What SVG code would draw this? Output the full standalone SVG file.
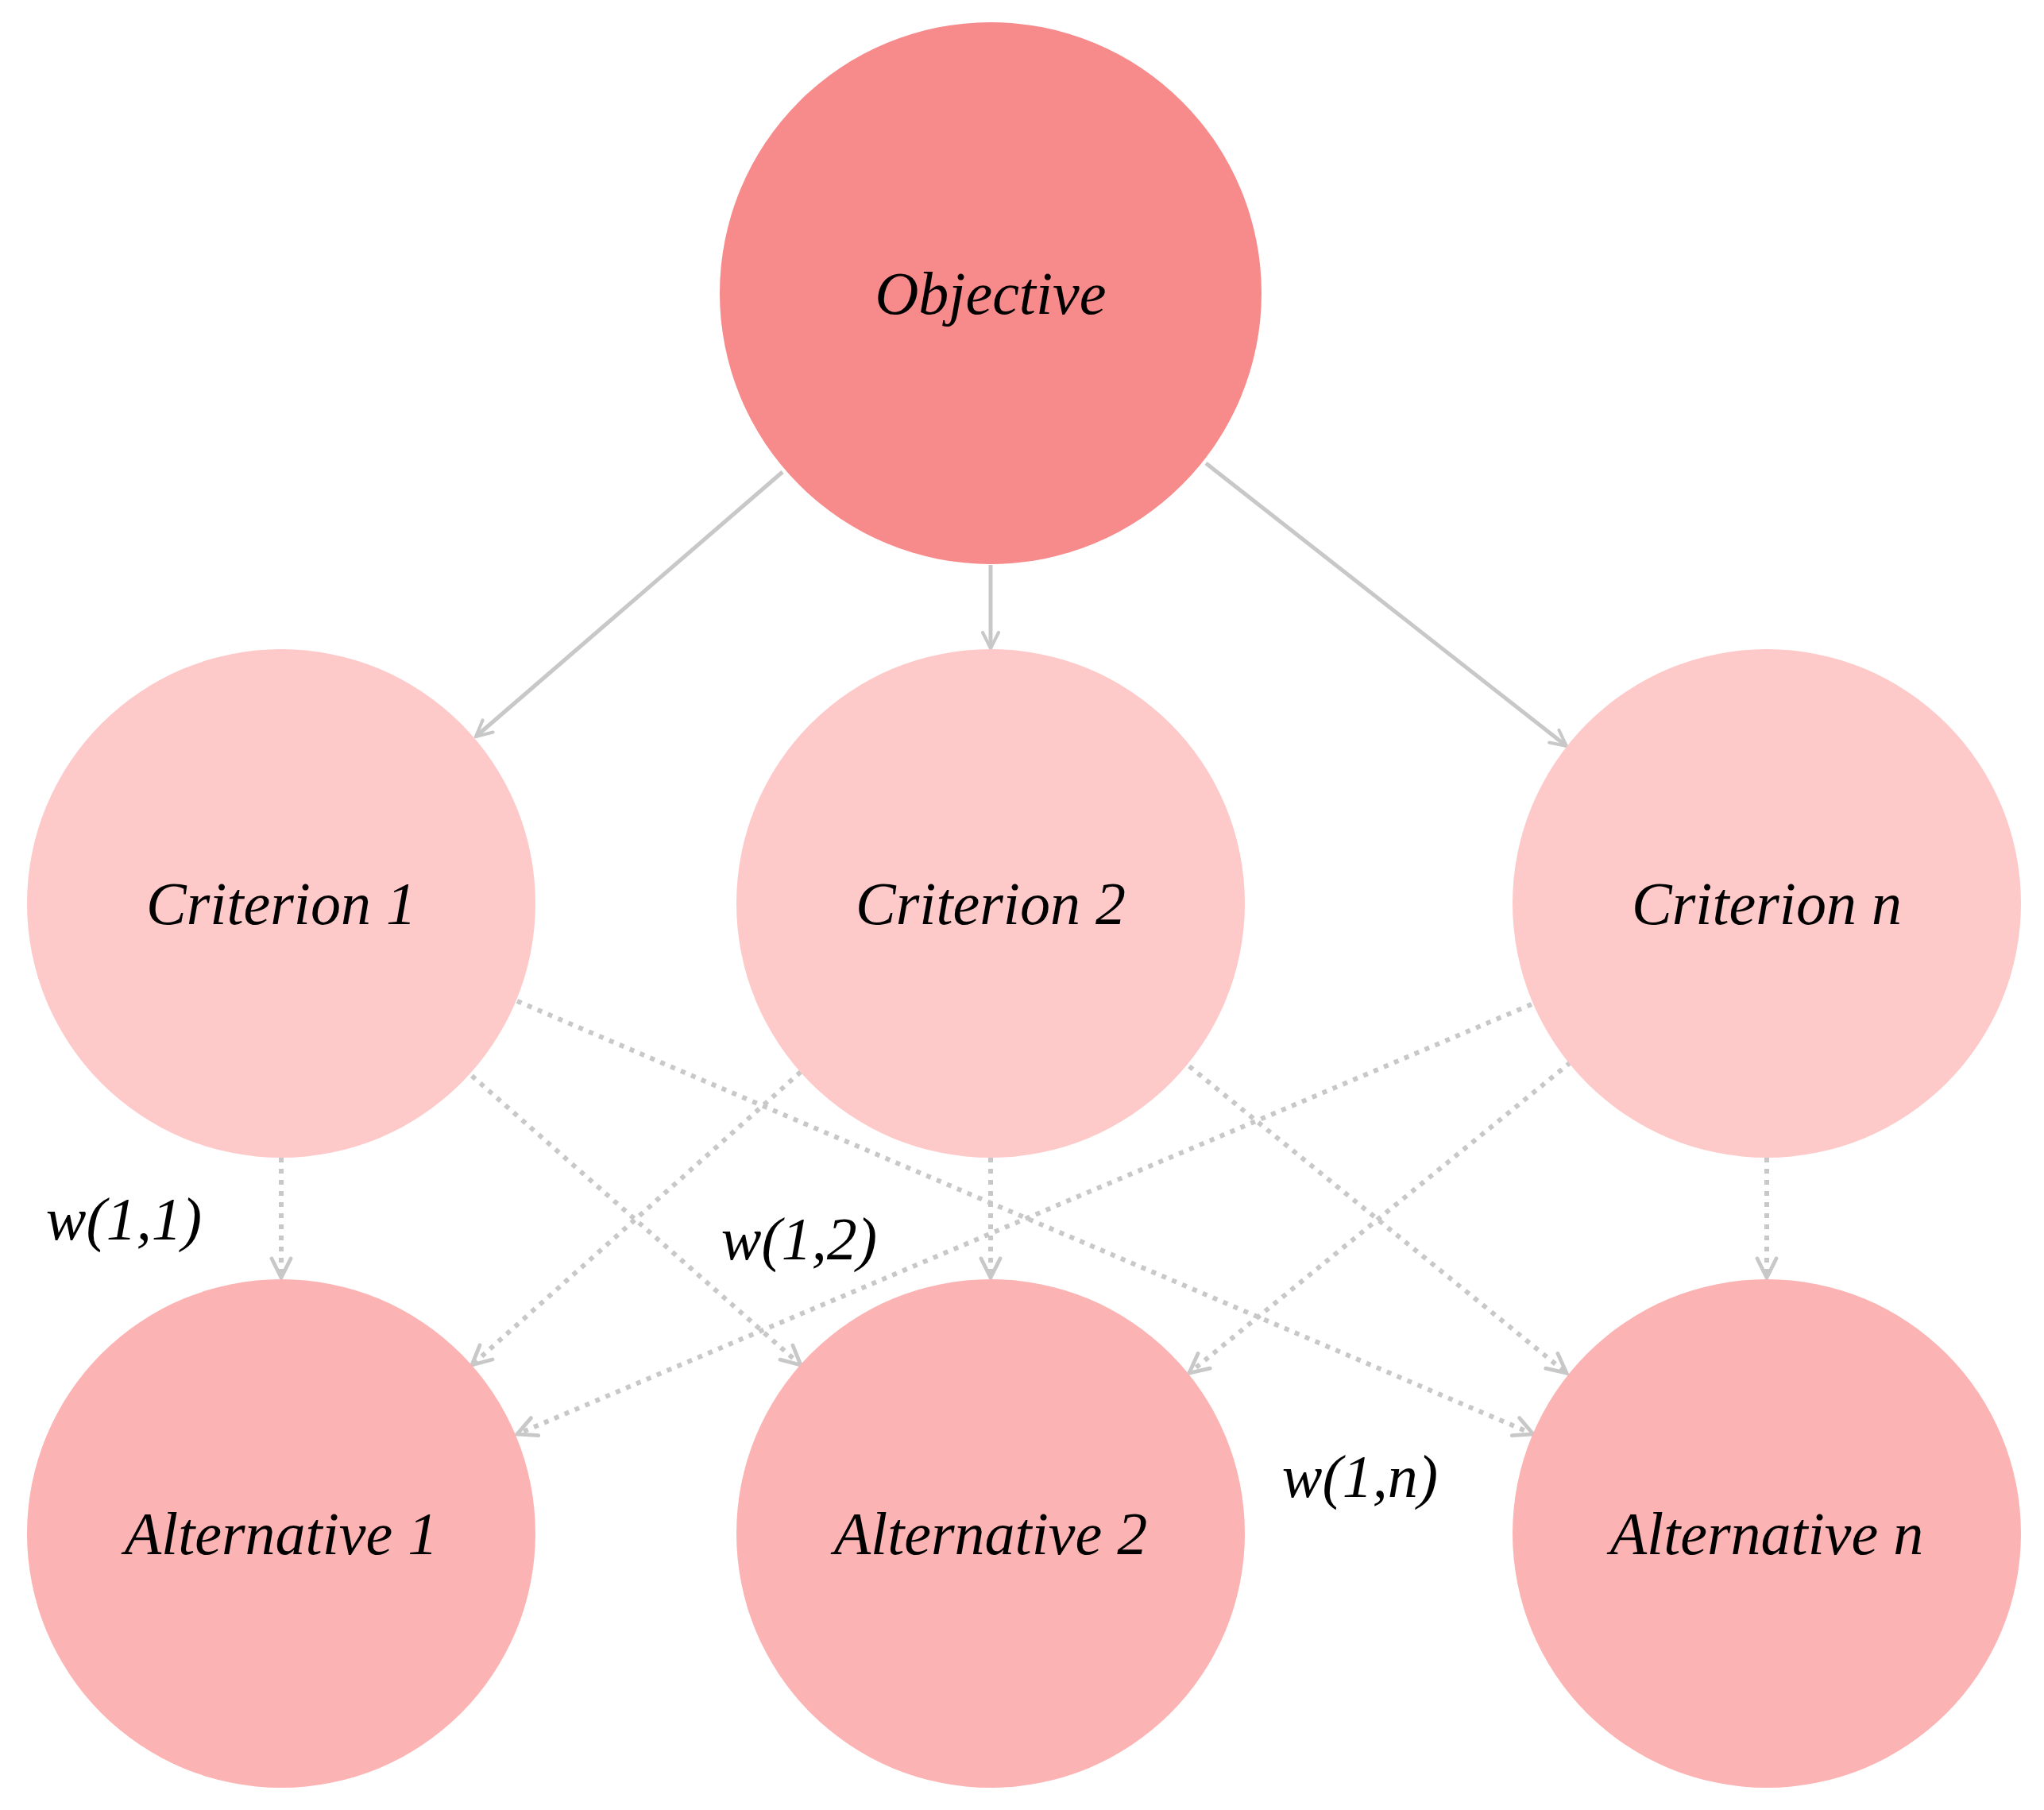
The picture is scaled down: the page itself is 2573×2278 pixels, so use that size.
<svg xmlns="http://www.w3.org/2000/svg" width="2573" height="2278" viewBox="0 0 2573 2278">
<style>
.t{font-family:"Liberation Serif",serif;font-style:italic;font-size:76px;fill:#000;text-anchor:middle;dominant-baseline:central}
.s{stroke:#c8c8c8;stroke-width:5;fill:none;marker-end:url(#a)}
.d{stroke:#c8c8c8;stroke-width:6;fill:none;stroke-dasharray:6 8;marker-end:url(#a)}
</style>
<defs><marker id="a" viewBox="0 0 10 10" refX="9" refY="5" markerWidth="5" markerHeight="5" orient="auto" markerUnits="strokeWidth"><path d="M1,1 L9,5 L1,9" fill="none" stroke="#c8c8c8" stroke-width="1.6" stroke-linecap="round"/></marker></defs>
<rect width="2573" height="2278" fill="#fff"/>
<g id="connectors">
<line class="s" x1="985" y1="594" x2="599" y2="927"/>
<line class="s" x1="1247" y1="711" x2="1247" y2="816"/>
<line class="s" x1="1518" y1="583" x2="1972" y2="939"/>
<line class="d" x1="354" y1="1457" x2="354" y2="1608"/>
<line class="d" x1="594" y1="1354" x2="1008" y2="1718"/>
<line class="d" x1="651" y1="1260" x2="1930" y2="1805"/>
<line class="d" x1="1008" y1="1349" x2="594" y2="1718"/>
<line class="d" x1="1247" y1="1457" x2="1247" y2="1608"/>
<line class="d" x1="1497" y1="1342" x2="1972" y2="1728"/>
<line class="d" x1="1928" y1="1264" x2="651" y2="1805"/>
<line class="d" x1="1977" y1="1337" x2="1497" y2="1728"/>
<line class="d" x1="2224" y1="1457" x2="2224" y2="1608"/>
</g>
<g id="objective"><circle cx="1247" cy="369" r="341" fill="#f78a8a"/><text class="t" x="1247" y="369">Objective</text></g>
<g id="c1"><circle cx="354" cy="1137" r="320" fill="#fdc9c9"/><text class="t" x="354" y="1137">Criterion 1</text></g>
<g id="c2"><circle cx="1247" cy="1137" r="320" fill="#fdc9c9"/><text class="t" x="1247" y="1137">Criterion 2</text></g>
<g id="cn"><circle cx="2224" cy="1137" r="320" fill="#fdc9c9"/><text class="t" x="2224" y="1137">Criterion n</text></g>
<g id="a1"><circle cx="354" cy="1930" r="320" fill="#fcb3b3"/><text class="t" x="354" y="1930">Alternative 1</text></g>
<g id="a2"><circle cx="1247" cy="1930" r="320" fill="#fcb3b3"/><text class="t" x="1247" y="1930">Alternative 2</text></g>
<g id="an"><circle cx="2224" cy="1930" r="320" fill="#fcb3b3"/><text class="t" x="2224" y="1930">Alternative n</text></g>
<g id="labels">
<text class="t" x="156" y="1534">w(1,1)</text>
<text class="t" x="1006" y="1559">w(1,2)</text>
<text class="t" x="1712" y="1858">w(1,n)</text>
</g>
</svg>
